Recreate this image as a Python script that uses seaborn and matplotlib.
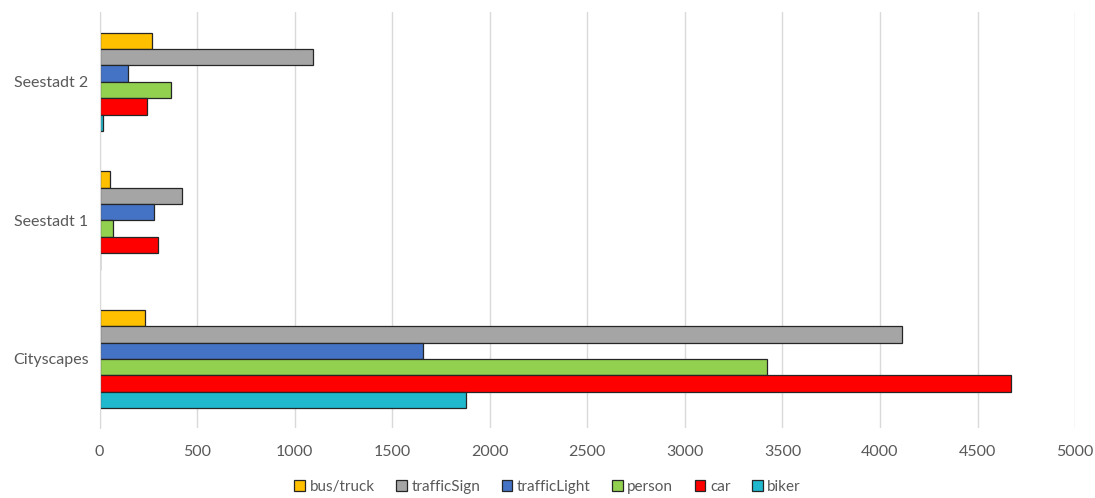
import matplotlib
matplotlib.use("Agg")
import matplotlib.pyplot as plt
import seaborn as sns
import pandas as pd

datasets = ["Seestadt 2", "Seestadt 1", "Cityscapes"]
classes = ["bus/truck", "trafficSign", "trafficLight", "person", "car", "biker"]
bus_truck = [269, 54, 233]
traffic_sign = [1094, 423, 4113]
traffic_light = [146, 279, 1658]
person = [366, 69, 3421]
car = [243, 300, 4672]
biker = [18, 3, 1878]
colors = ["#FFC000", "#A5A5A5", "#4472C4", "#92D050", "#FF0000", "#1FB8CC"]
x_ticks = [0, 500, 1000, 1500, 2000, 2500, 3000, 3500, 4000, 4500, 5000]

series = [bus_truck, traffic_sign, traffic_light, person, car, biker]
rows = []
for cls, vals in zip(classes, series):
    for d, v in zip(datasets, vals):
        rows.append({"dataset": d, "class": cls, "count": v})
df = pd.DataFrame(rows)

sns.set_style("white")
plt.rcParams["font.family"] = ["Lato", "DejaVu Sans"]

fig = plt.figure(figsize=(10.95, 4.98), dpi=100)
ax = fig.add_axes([0.0909, 0.14, 0.8909, 0.835])

sns.barplot(data=df, y="dataset", x="count", hue="class", order=datasets,
            hue_order=classes, palette=colors, orient="h", width=0.71,
            saturation=1, edgecolor="#262626", linewidth=0.9, ax=ax,
            legend=True)

ax.set_xlim(0, 5000)
ax.set_ylim(2.5, -0.5)
ax.set_xticks(x_ticks)
ax.set_xlabel("")
ax.set_ylabel("")
ax.grid(axis="x", color="#D9D9D9", linewidth=1)
ax.set_axisbelow(True)
for s in ["top", "right", "bottom"]:
    ax.spines[s].set_visible(False)
ax.spines["left"].set_color("#D9D9D9")
ax.tick_params(axis="both", length=0, labelsize=11.5, colors="#595959", pad=8)
ax.tick_params(axis="x", pad=12)

handles, labels = ax.get_legend_handles_labels()
ax.legend_.remove()
fig.legend(handles, labels, loc="center", bbox_to_anchor=(0.5, 0.022),
           ncol=6, frameon=False, fontsize=11, labelcolor="#595959",
           handlelength=0.7, handleheight=0.7, handletextpad=0.3,
           columnspacing=1.4)

fig.savefig("out.png", dpi=100)
